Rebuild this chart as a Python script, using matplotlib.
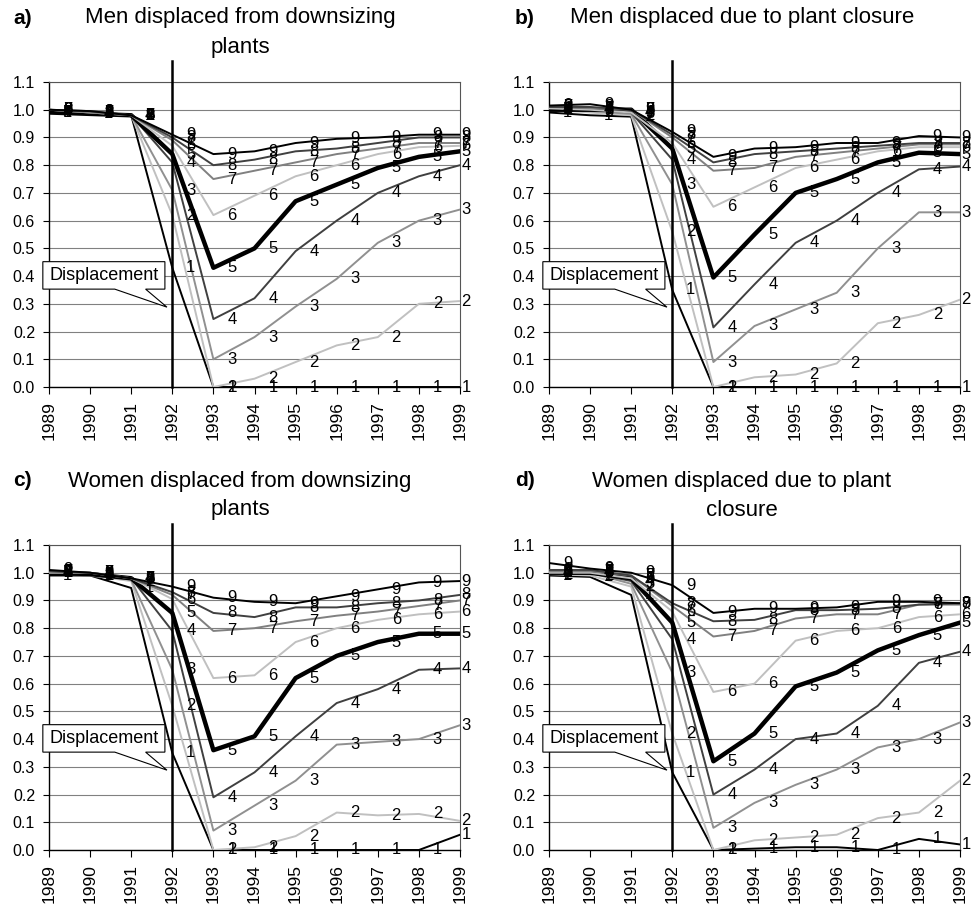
import numpy as np
import matplotlib
matplotlib.use('Agg')
import matplotlib.pyplot as plt
from matplotlib.patches import Polygon

plt.rcParams['font.family'] = ['Liberation Sans', 'DejaVu Sans']

years = list(range(1989, 2000))
groups = ['1', '2', '3', '4', '5', '6', '7', '8', '9']

# a) men, downsizing plants
men_down = [
    [0.99, 0.985, 0.98, 0.43, 0.0, 0.0, 0.0, 0.0, 0.0, 0.0, 0.0],
    [1.0, 0.99, 0.98, 0.62, 0.0, 0.03, 0.09, 0.15, 0.18, 0.30, 0.31],
    [1.0, 0.99, 0.98, 0.71, 0.10, 0.18, 0.29, 0.39, 0.52, 0.60, 0.64],
    [0.99, 0.985, 0.98, 0.81, 0.245, 0.32, 0.49, 0.60, 0.70, 0.76, 0.80],
    [0.99, 0.985, 0.98, 0.84, 0.43, 0.50, 0.67, 0.73, 0.79, 0.83, 0.85],
    [1.0, 0.99, 0.98, 0.87, 0.62, 0.69, 0.76, 0.80, 0.84, 0.865, 0.87],
    [1.0, 0.99, 0.98, 0.89, 0.75, 0.78, 0.81, 0.84, 0.86, 0.88, 0.88],
    [1.0, 0.995, 0.98, 0.90, 0.80, 0.82, 0.85, 0.86, 0.88, 0.90, 0.90],
    [1.0, 0.995, 0.98, 0.91, 0.84, 0.85, 0.88, 0.895, 0.90, 0.91, 0.91],
]

# b) men, plant closure
men_close = [
    [0.99, 0.98, 0.975, 0.35, 0.0, 0.0, 0.0, 0.0, 0.0, 0.0, 0.0],
    [1.0, 0.99, 0.98, 0.56, 0.0, 0.035, 0.045, 0.085, 0.23, 0.26, 0.315],
    [1.0, 0.995, 0.985, 0.73, 0.09, 0.22, 0.28, 0.34, 0.50, 0.63, 0.63],
    [1.0, 1.0, 0.99, 0.82, 0.215, 0.37, 0.52, 0.60, 0.70, 0.785, 0.795],
    [1.0, 1.0, 1.0, 0.86, 0.395, 0.55, 0.70, 0.75, 0.81, 0.845, 0.84],
    [1.005, 1.0, 0.99, 0.88, 0.65, 0.72, 0.79, 0.82, 0.85, 0.865, 0.865],
    [1.01, 1.005, 1.0, 0.90, 0.78, 0.79, 0.83, 0.845, 0.86, 0.875, 0.875],
    [1.01, 1.01, 1.0, 0.91, 0.81, 0.84, 0.85, 0.86, 0.87, 0.88, 0.88],
    [1.015, 1.02, 1.0, 0.92, 0.83, 0.86, 0.865, 0.88, 0.88, 0.905, 0.90],
]

# c) women, downsizing plants
women_down = [
    [0.99, 0.99, 0.945, 0.35, 0.0, 0.0, 0.0, 0.0, 0.0, 0.0, 0.055],
    [1.0, 0.99, 0.97, 0.52, 0.0, 0.01, 0.05, 0.135, 0.125, 0.13, 0.105],
    [1.0, 0.995, 0.975, 0.65, 0.07, 0.16, 0.25, 0.38, 0.39, 0.40, 0.45],
    [1.0, 0.995, 0.98, 0.79, 0.19, 0.28, 0.41, 0.53, 0.58, 0.65, 0.655],
    [1.0, 0.995, 0.98, 0.855, 0.36, 0.41, 0.62, 0.70, 0.75, 0.78, 0.78],
    [1.0, 1.0, 0.98, 0.905, 0.62, 0.63, 0.75, 0.80, 0.83, 0.85, 0.86],
    [1.005, 1.0, 0.98, 0.92, 0.79, 0.80, 0.825, 0.845, 0.86, 0.88, 0.90],
    [1.005, 1.0, 0.98, 0.93, 0.855, 0.84, 0.875, 0.875, 0.89, 0.90, 0.92],
    [1.01, 1.0, 0.98, 0.95, 0.91, 0.895, 0.89, 0.915, 0.94, 0.965, 0.97],
]

# d) women, plant closure
women_close = [
    [0.99, 0.985, 0.92, 0.28, 0.0, 0.005, 0.01, 0.01, 0.0, 0.04, 0.02],
    [0.995, 0.99, 0.95, 0.42, 0.0, 0.035, 0.045, 0.055, 0.115, 0.135, 0.25],
    [1.0, 1.0, 0.96, 0.64, 0.08, 0.17, 0.235, 0.29, 0.37, 0.40, 0.46],
    [1.0, 1.0, 0.97, 0.76, 0.20, 0.29, 0.40, 0.42, 0.52, 0.675, 0.715],
    [1.0, 1.0, 0.98, 0.82, 0.32, 0.42, 0.59, 0.64, 0.72, 0.775, 0.82],
    [1.0, 1.0, 0.98, 0.86, 0.57, 0.60, 0.755, 0.79, 0.80, 0.84, 0.85],
    [1.005, 1.005, 0.99, 0.88, 0.77, 0.79, 0.835, 0.85, 0.85, 0.885, 0.885],
    [1.01, 1.01, 0.99, 0.89, 0.825, 0.83, 0.865, 0.865, 0.87, 0.885, 0.89],
    [1.035, 1.015, 1.0, 0.955, 0.855, 0.87, 0.87, 0.875, 0.895, 0.895, 0.89],
]

colors = ['black', '#c0c0c0', '#909090', '#404040', 'black',
          '#c0c0c0', '#808080', '#404040', 'black']
widths = [1.4, 1.4, 1.4, 1.4, 3.2, 1.4, 1.4, 1.4, 1.4]

W, H = 971, 907
fig = plt.figure(figsize=(W / 100, H / 100), dpi=100)

panels = [
    ('a)', ['Men displaced from downsizing', 'plants'], men_down, (49, 82), (13, 240, 18)),
    ('b)', ['Men displaced due to plant closure'], men_close, (549, 82), (515, 742, 18)),
    ('c)', ['Women displaced from downsizing', 'plants'], women_down, (49, 545), (13, 240, 481)),
    ('d)', ['Women displaced due to plant', 'closure'], women_close, (549, 545), (515, 742, 481)),
]

for letter, title, series, (left, top), (lx, tx, ty) in panels:
    ax = fig.add_axes([left / W, 1 - (top + 305) / H, 411 / W, 305 / H])
    for i, vals in enumerate(series):
        ax.plot(years, vals, color=colors[i], lw=widths[i], zorder=3)
    for i, vals in enumerate(series):
        for yr, v in zip(years, vals):
            x = yr + 0.45 if yr < 1999 else yr + 0.15
            ax.text(x, v, groups[i], fontsize=12, ha='center', va='center',
                    zorder=4, clip_on=False)

    ax.set_xlim(1989, 1999)
    ax.set_ylim(0, 1.1)
    yt = np.round(np.arange(0, 1.11, 0.1), 1)
    ax.set_yticks(yt)
    ax.set_yticklabels([f'{t:.1f}' for t in yt])
    ax.set_xticks(years)
    ax.set_xticklabels([str(y) for y in years], rotation=90)
    ax.tick_params(axis='y', labelsize=11.5, length=4, width=0.8, pad=6)
    ax.tick_params(axis='x', labelsize=12.5, length=5, width=0.8, pad=5)
    ax.yaxis.grid(True, color='#808080', lw=0.8)
    ax.set_axisbelow(True)
    for s in ['top', 'right']:
        ax.spines[s].set_color('#555555')
        ax.spines[s].set_linewidth(0.8)
    for s in ['left', 'bottom']:
        ax.spines[s].set_linewidth(1.0)

    # displacement marker
    ax.plot([1992, 1992], [0, 1.177], color='black', lw=1.8, zorder=5, clip_on=False)
    x0, x1, y0, y1 = 1988.85, 1991.82, 0.353, 0.452
    callout = Polygon([(x0, y1), (x1, y1), (x1, y0), (1991.35, y0), (1991.87, 0.288),
                       (1990.6, y0), (x0, y0)], closed=True, facecolor='white',
                      edgecolor='black', lw=0.8, zorder=6, clip_on=False)
    ax.add_patch(callout)
    ax.text((x0 + x1) / 2, (y0 + y1) / 2, 'Displacement', fontsize=13,
            ha='center', va='center', zorder=7)

    fig.text(lx / W, 1 - ty / H, letter, fontsize=15, fontweight='bold',
             ha='left', va='center')
    for k, line in enumerate(title):
        fig.text(tx / W, 1 - (ty + 29 * k) / H, line, fontsize=16,
                 ha='center', va='center')

fig.savefig('out.png', dpi=100)
